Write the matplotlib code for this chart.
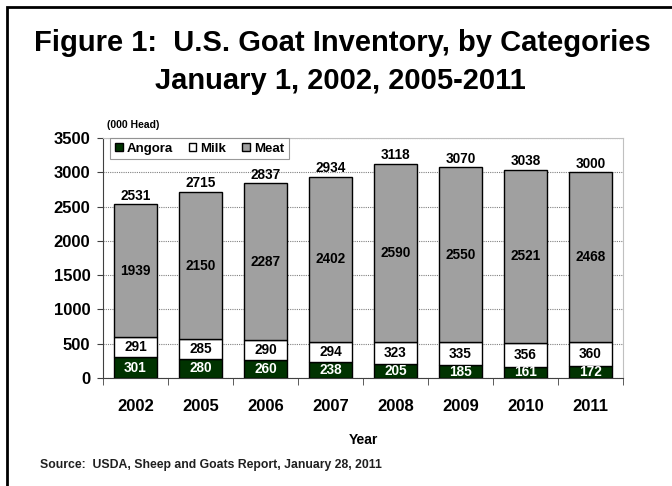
import matplotlib
matplotlib.use("Agg")
import matplotlib.pyplot as plt
from matplotlib.patches import Rectangle
import numpy as np

years = ["2002", "2005", "2006", "2007", "2008", "2009", "2010", "2011"]
angora = [301, 280, 260, 238, 205, 185, 161, 172]
milk = [291, 285, 290, 294, 323, 335, 356, 360]
meat = [1939, 2150, 2287, 2402, 2590, 2550, 2521, 2468]
totals = [2531, 2715, 2837, 2934, 3118, 3070, 3038, 3000]
yticks = [0, 500, 1000, 1500, 2000, 2500, 3000, 3500]

plt.rcParams['font.family'] = ['Liberation Sans', 'DejaVu Sans']

W, H = 672, 486
fig = plt.figure(figsize=(W / 100, H / 100), dpi=100)

# outer frame
fig.add_artist(Rectangle((7 / W, -0.1), 1.2, 1 - 7 / H + 0.1, transform=fig.transFigure,
                         fill=False, edgecolor='black', linewidth=2))

fig.text(342 / W, 1 - 43 / H, "Figure 1:  U.S. Goat Inventory, by Categories",
         ha='center', va='center', fontsize=21, fontweight='bold')
fig.text(340 / W, 1 - 81 / H, "January 1, 2002, 2005-2011",
         ha='center', va='center', fontsize=21, fontweight='bold')

ax = fig.add_axes([103 / W, 1 - 378 / H, 520 / W, 240 / H])
x = np.arange(len(years))
w = 0.66
c_ang = '#003300'
c_milk = 'white'
c_meat = '#a0a0a0'
b1 = np.array(angora, dtype=float)
b2 = b1 + np.array(milk)
ax.bar(x, angora, w, color=c_ang, edgecolor='black', linewidth=1, label='Angora', zorder=3)
ax.bar(x, milk, w, bottom=b1, color=c_milk, edgecolor='black', linewidth=1, label='Milk', zorder=3)
ax.bar(x, meat, w, bottom=b2, color=c_meat, edgecolor='black', linewidth=1, label='Meat', zorder=3)

fs_lab = 9.8
for i in range(len(years)):
    ax.text(x[i], angora[i] / 2, str(angora[i]), ha='center', va='center',
            color='white', fontsize=fs_lab, fontweight='bold', zorder=4)
    ax.text(x[i], b1[i] + milk[i] / 2, str(milk[i]), ha='center', va='center',
            color='black', fontsize=fs_lab, fontweight='bold', zorder=4)
    ax.text(x[i], b2[i] + meat[i] / 2, str(meat[i]), ha='center', va='center',
            color='black', fontsize=fs_lab, fontweight='bold', zorder=4)
    ax.text(x[i], totals[i] + 25, str(totals[i]), ha='center', va='bottom',
            color='black', fontsize=fs_lab, fontweight='bold', zorder=4)

ax.set_xlim(-0.5, len(years) - 0.5)
ax.set_ylim(0, 3500)
ax.set_yticks(yticks)
ax.set_yticklabels([str(v) for v in yticks], fontsize=12, fontweight='bold')
ax.yaxis.grid(True, linestyle=(0, (1, 1)), color='#808080', linewidth=0.8, zorder=0)
ax.set_axisbelow(True)
ax.set_xticks(x)
ax.set_xticklabels(years, fontsize=12, fontweight='bold')
ax.set_xticks(np.arange(-0.5, len(years), 1), minor=True)
ax.tick_params(axis='x', which='major', length=0, pad=15)
ax.tick_params(axis='x', which='minor', length=5, direction='out', color='#404040')
ax.tick_params(axis='y', length=4, direction='out', color='#404040', pad=5)
for s in ['left', 'bottom']:
    ax.spines[s].set_color('#404040')
for s in ['top', 'right']:
    ax.spines[s].set_color('#c0c0c0')
    ax.spines[s].set_linewidth(0.8)

ax.set_xlabel("Year", fontsize=10, fontweight='bold', labelpad=14)

leg = ax.legend(loc='upper left', bbox_to_anchor=(7 / 520, 1.0), ncol=3, frameon=True,
                fancybox=False, edgecolor='#808080',
                prop={'weight': 'bold', 'size': 9.5},
                handlelength=0.6, handleheight=0.6, handletextpad=0.3,
                columnspacing=1.2, borderpad=0.35, borderaxespad=0)
leg.get_frame().set_linewidth(0.8)

fig.text(107 / W, 1 - 125 / H, "(000 Head)", ha='left', va='center', fontsize=7.5, fontweight='bold')
fig.text(40 / W, 1 - 465 / H, "Source:  USDA, Sheep and Goats Report, January 28, 2011",
         ha='left', va='center', fontsize=8.8, fontweight='bold', color='#202020')

fig.savefig("out.png", dpi=100)
